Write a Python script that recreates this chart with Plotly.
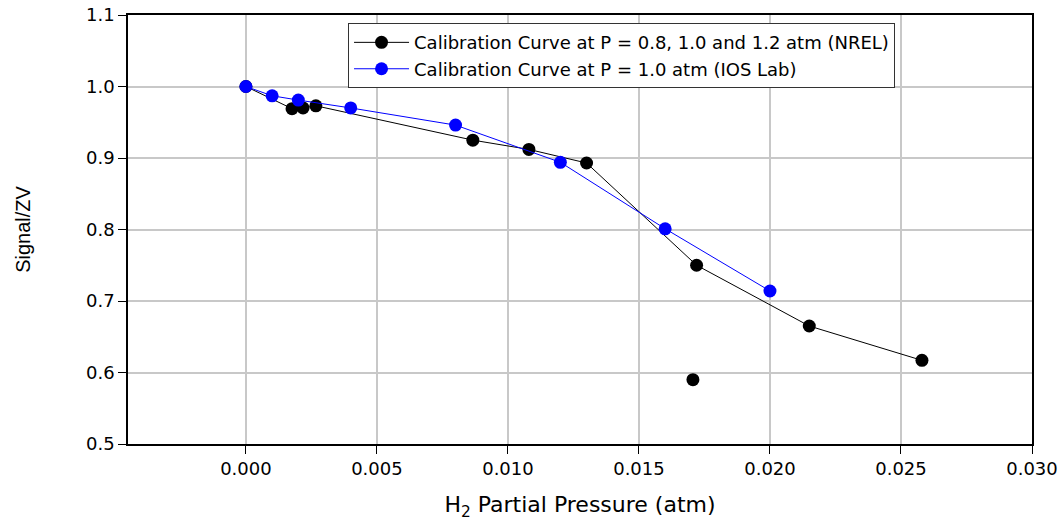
import plotly.graph_objects as go

# NREL calibration (P = 0.8, 1.0, 1.2 atm)
nrel_x = [0.0, 0.00176, 0.00218, 0.00267, 0.00866, 0.0108, 0.0130, 0.0172, 0.0215, 0.0258]
nrel_y = [1.0, 0.969, 0.970, 0.973, 0.925, 0.912, 0.893, 0.750, 0.665, 0.617]
# isolated NREL point
nrel_extra_x = [0.01706]
nrel_extra_y = [0.590]
# IOS Lab calibration (P = 1.0 atm)
ios_x = [0.0, 0.001, 0.002, 0.004, 0.008, 0.012, 0.016, 0.020]
ios_y = [1.0, 0.987, 0.981, 0.970, 0.946, 0.894, 0.801, 0.714]

name_nrel = "Calibration Curve at P = 0.8, 1.0 and 1.2 atm (NREL)"
name_ios = "Calibration Curve at P = 1.0 atm (IOS Lab)"

fig = go.Figure()
fig.add_trace(go.Scatter(x=nrel_x, y=nrel_y, mode="lines+markers", name=name_nrel,
                         line=dict(color="black", width=1),
                         marker=dict(color="black", size=13)))
fig.add_trace(go.Scatter(x=nrel_extra_x, y=nrel_extra_y, mode="markers", showlegend=False,
                         marker=dict(color="black", size=13)))
fig.add_trace(go.Scatter(x=ios_x, y=ios_y, mode="lines+markers", name=name_ios,
                         line=dict(color="#0000ff", width=1),
                         marker=dict(color="#0000ff", size=13)))

font_main = "DejaVu Sans"
fig.update_layout(
    width=1060, height=521,
    margin=dict(l=128, r=28, t=15, b=77),
    plot_bgcolor="white", paper_bgcolor="white",
    font=dict(family=font_main, size=16, color="black"),
    legend=dict(x=0.2434, y=0.981, xanchor="left", yanchor="top",
                bordercolor="#333333", borderwidth=1, bgcolor="white",
                font=dict(family=font_main, size=18), tracegroupgap=0,
                itemwidth=55),
    showlegend=True,
)
fig.update_xaxes(
    range=[-0.0045, 0.030], tick0=0, dtick=0.005, tickformat=".3f",
    showgrid=True, gridcolor="#c8c8c8", gridwidth=1.5,
    showline=True, linecolor="black", linewidth=1.5, mirror=True,
    ticks="outside", ticklen=8, tickcolor="black",
    tickfont=dict(family=font_main, size=18),
    zeroline=False, automargin=False,
    title=dict(text="H<sub>2</sub> Partial Pressure (atm)",
               font=dict(family=font_main, size=22), standoff=24),
)
fig.update_yaxes(
    range=[0.5, 1.1], dtick=0.1, tickformat=".1f",
    showgrid=True, gridcolor="#c8c8c8", gridwidth=1.5,
    showline=True, linecolor="black", linewidth=1.5, mirror=True,
    ticks="outside", ticklen=8, tickcolor="black",
    tickfont=dict(family=font_main, size=18),
    zeroline=False, automargin=False,
    title=dict(text="Signal/ZV", font=dict(family="Liberation Sans", size=20), standoff=50),
)

fig.write_html("out.html")
